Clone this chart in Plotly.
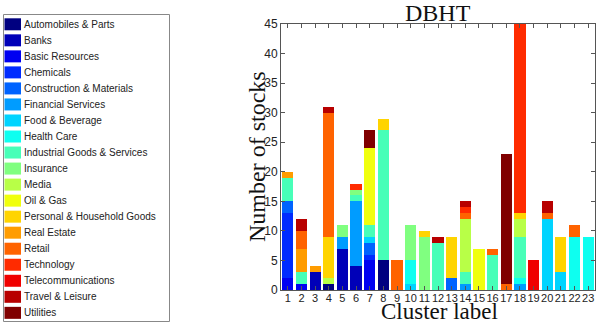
import plotly.graph_objects as go

clusters = [str(i) for i in range(1, 24)]
sectors = ["Automobiles & Parts", "Banks", "Basic Resources", "Chemicals",
           "Construction & Materials", "Financial Services", "Food & Beverage",
           "Health Care", "Industrial Goods & Services", "Insurance", "Media",
           "Oil & Gas", "Personal & Household Goods", "Real Estate", "Retail",
           "Technology", "Telecommunications", "Travel & Leisure", "Utilities"]

#                 1  2  3  4  5  6  7  8  9 10 11 12 13 14 15 16 17 18 19 20 21 22 23
automobiles   = [0, 0, 0, 1, 0, 0, 0, 5, 0, 0, 0, 0, 0, 0, 0, 0, 0, 0, 0, 0, 0, 0, 0]
banks         = [0, 0, 3, 0, 7, 4, 0, 0, 0, 0, 0, 0, 0, 0, 0, 0, 0, 0, 0, 0, 0, 0, 0]
basic_res     = [2, 1, 0, 0, 0, 0, 5, 0, 0, 0, 0, 0, 0, 0, 0, 0, 0, 0, 0, 0, 0, 0, 0]
chemicals     = [11, 0, 0, 0, 0, 0, 1, 0, 0, 0, 0, 0, 0, 0, 0, 0, 0, 0, 0, 0, 0, 0, 0]
construction  = [2, 0, 0, 0, 0, 0, 2, 0, 0, 0, 0, 0, 2, 0, 0, 0, 0, 0, 0, 0, 0, 0, 0]
financial     = [0, 0, 0, 0, 2, 11, 0, 0, 0, 0, 0, 0, 0, 1, 0, 0, 0, 1, 0, 0, 0, 0, 0]
food_bev      = [0, 0, 0, 0, 0, 0, 1, 0, 0, 1, 0, 0, 0, 0, 0, 0, 0, 0, 0, 12, 3, 0, 0]
health_care   = [0, 0, 0, 0, 0, 0, 0, 0, 0, 4, 0, 0, 0, 0, 0, 0, 0, 1, 0, 0, 0, 9, 9]
industrial    = [4, 2, 0, 0, 0, 1, 2, 22, 0, 0, 0, 8, 0, 2, 0, 6, 0, 7, 0, 0, 0, 0, 0]
insurance     = [0, 0, 0, 0, 2, 1, 0, 0, 0, 6, 9, 0, 0, 0, 0, 0, 0, 0, 0, 0, 0, 0, 0]
media         = [0, 0, 0, 1, 0, 0, 0, 0, 0, 0, 0, 0, 0, 9, 0, 0, 0, 3, 0, 0, 0, 0, 0]
oil_gas       = [0, 0, 0, 0, 0, 0, 13, 0, 0, 0, 0, 0, 0, 0, 7, 0, 0, 0, 0, 0, 0, 0, 0]
personal      = [0, 0, 0, 7, 0, 0, 0, 2, 0, 0, 1, 0, 7, 0, 0, 0, 0, 1, 0, 0, 6, 0, 0]
real_estate   = [1, 4, 1, 0, 0, 0, 0, 0, 0, 0, 0, 0, 0, 0, 0, 0, 0, 0, 0, 0, 0, 0, 0]
retail        = [0, 3, 0, 21, 0, 0, 0, 0, 5, 0, 0, 0, 0, 1, 0, 1, 1, 0, 0, 1, 0, 2, 0]
technology    = [0, 0, 0, 0, 0, 1, 0, 0, 0, 0, 0, 0, 0, 1, 0, 0, 0, 32, 0, 0, 0, 0, 0]
telecom       = [0, 0, 0, 0, 0, 0, 0, 0, 0, 0, 0, 0, 0, 0, 0, 0, 0, 0, 5, 0, 0, 0, 0]
travel        = [0, 2, 0, 1, 0, 0, 0, 0, 0, 0, 0, 1, 0, 1, 0, 0, 0, 0, 0, 2, 0, 0, 0]
utilities     = [0, 0, 0, 0, 0, 0, 3, 0, 0, 0, 0, 0, 0, 0, 0, 0, 22, 0, 0, 0, 0, 0, 0]

series = [automobiles, banks, basic_res, chemicals, construction, financial,
          food_bev, health_care, industrial, insurance, media, oil_gas, personal,
          real_estate, retail, technology, telecom, travel, utilities]

colors = ["#000080", "#0000B8", "#0000F1", "#002BFF", "#0063FF", "#009CFF",
          "#00D4FF", "#0EFFF0", "#47FFB8", "#80FF80", "#B8FF47", "#F0FF0E",
          "#FFD400", "#FF9C00", "#FF6300", "#FF2B00", "#F00000", "#B80000",
          "#800000"]

W, H = 597, 323
L, R, T, B = 281, 595, 24, 290

def px(x):
    return (x - L) / (R - L)

def py(y):
    return (B - y) / (B - T)

fig = go.Figure()
xs = list(range(1, 24))
for name, vals, col in zip(sectors, series, colors):
    fig.add_trace(go.Bar(x=xs, y=vals, name=name, marker_color=col,
                         marker_line_width=0, width=0.82, showlegend=False))

axis_common = dict(showline=True, linecolor="#555", linewidth=1, mirror="ticks",
                   ticks="inside", ticklen=4, tickcolor="#555", showgrid=False,
                   zeroline=False, tickangle=0)

fig.update_layout(
    width=W, height=H, barmode="stack", bargap=0,
    margin=dict(l=L, r=W - R, t=T, b=H - B, pad=0, autoexpand=False),
    plot_bgcolor="white", paper_bgcolor="white",
    xaxis=dict(range=[0.5, 23.5], tickvals=xs, ticktext=clusters,
               tickfont=dict(family="Liberation Sans, Arial", size=11, color="#222"),
               **axis_common),
    yaxis=dict(range=[0, 45], tickvals=list(range(0, 46, 5)),
               tickfont=dict(family="Liberation Sans, Arial", size=12, color="#222"),
               **axis_common),
)
fig.update_xaxes(ticklabelstandoff=-2)

serif = "Liberation Serif, Times New Roman, serif"
fig.add_annotation(text="DBHT", xref="paper", yref="paper", x=px(438), y=py(13),
                   xanchor="center", yanchor="middle", showarrow=False,
                   font=dict(family=serif, size=24, color="#111"))
fig.add_annotation(text="Cluster label", xref="paper", yref="paper", x=px(439), y=py(311),
                   xanchor="center", yanchor="middle", showarrow=False,
                   font=dict(family=serif, size=23, color="#111"))
fig.add_annotation(text="Number of stocks", xref="paper", yref="paper", x=px(257), y=py(157),
                   xanchor="center", yanchor="middle", showarrow=False, textangle=-90,
                   font=dict(family=serif, size=24, color="#111"))

# legend box
fig.add_shape(type="rect", xref="paper", yref="paper", x0=px(3.5), x1=px(169.5),
              y0=py(14.5), y1=py(321.5), line=dict(color="#888", width=1), fillcolor="white",
              layer="below")
for i, (name, col) in enumerate(zip(sectors, colors)):
    cy = 24.3 + 16.03 * i
    fig.add_shape(type="rect", xref="paper", yref="paper", x0=px(4.5), x1=px(21),
                  y0=py(cy - 6), y1=py(cy + 6), line=dict(width=0), fillcolor=col)
    fig.add_annotation(text=name, xref="paper", yref="paper", x=px(21.5), y=py(cy),
                       xanchor="left", yanchor="middle", showarrow=False,
                       font=dict(family="Liberation Sans, Arial", size=10, color="#222"))

fig.write_html("out.html", config={"displayModeBar": False},
               post_script="document.body.style.margin='0px';")
